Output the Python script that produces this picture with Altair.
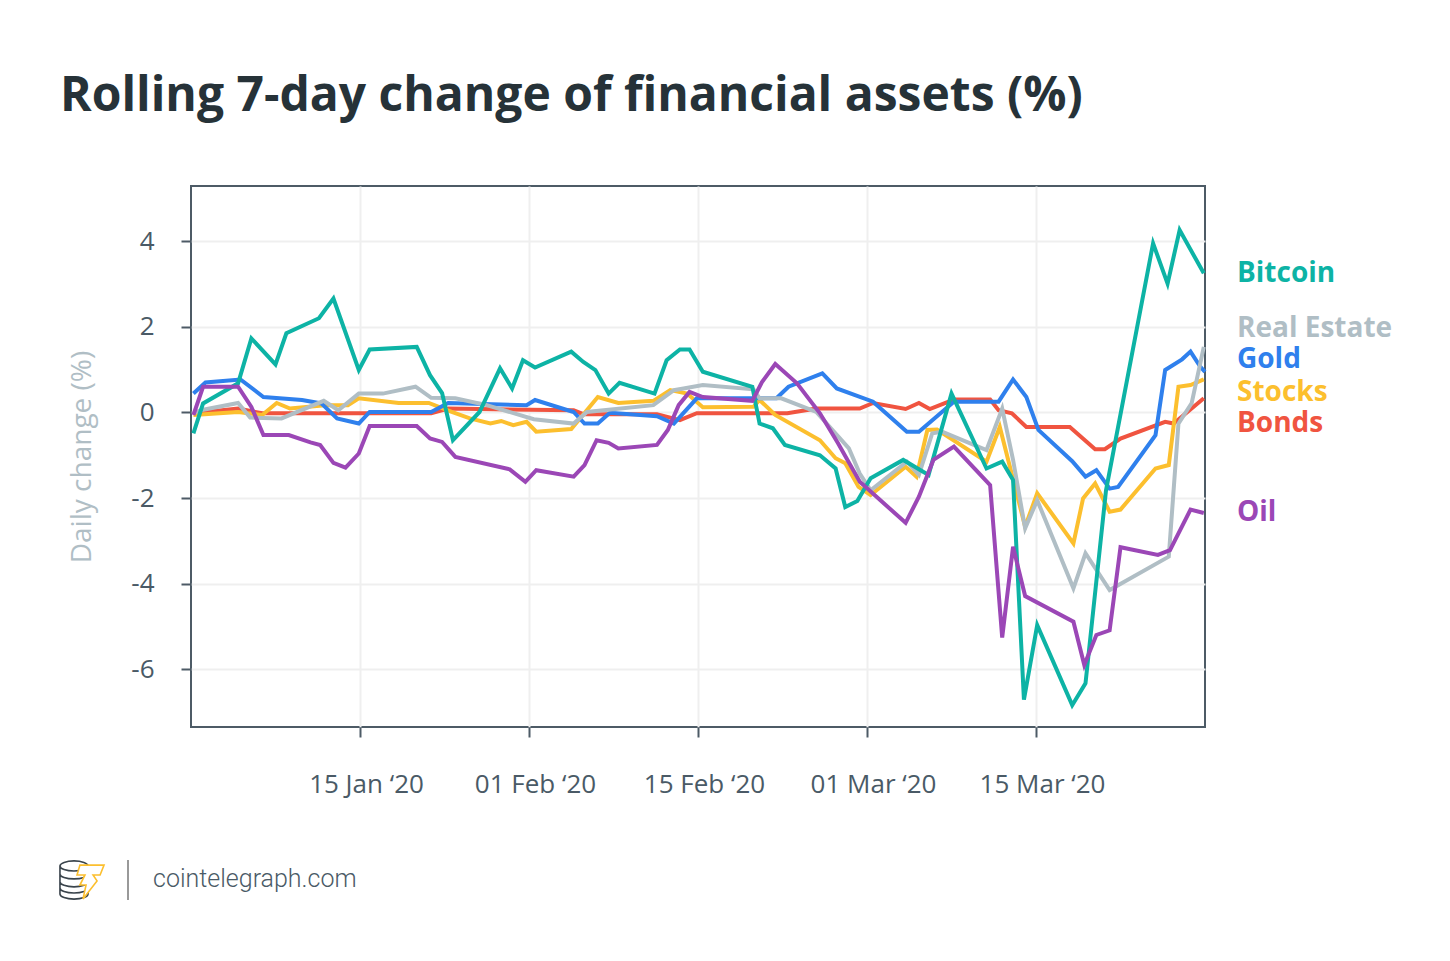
import altair as alt
import pandas as pd

# ---------------- data (x = day index along the axis, 14 per tick step) ----------------
btc_day = [0.2, 1.0, 3.9, 5.0, 7.0, 7.9, 10.6, 11.8, 13.9, 14.8, 18.7, 19.8, 20.8, 21.7, 23.9,
           25.6, 26.6, 27.5, 28.5, 31.5, 32.5, 33.5, 34.6, 35.5, 38.4, 39.4, 40.5, 41.3, 42.4,
           46.5, 47.1, 48.2, 49.2, 52.1, 53.4, 54.2, 55.2, 56.3, 59.0, 61.1, 63.0, 65.9, 67.2,
           68.1, 69.0, 70.1, 73.0, 74.1, 75.8, 79.7, 80.9, 81.9, 83.9]
btc_val = [-0.49, 0.21, 0.68, 1.73, 1.12, 1.85, 2.20, 2.66, 0.99, 1.47, 1.53, 0.87, 0.45, -0.65, 0.01,
           1.03, 0.56, 1.22, 1.05, 1.42, 1.18, 0.99, 0.44, 0.69, 0.44, 1.22, 1.47, 1.47, 0.95,
           0.60, -0.26, -0.37, -0.76, -1.00, -1.31, -2.21, -2.07, -1.54, -1.11, -1.46, 0.44, -1.31, -1.15,
           -1.58, -6.71, -4.97, -6.84, -6.33, -1.82, 3.95, 3.01, 4.26, 3.25]

gold_day = [0.2, 1.2, 4.1, 6.0, 9.2, 10.8, 12.1, 13.9, 14.8, 19.9, 21.3, 27.8, 28.5, 31.7, 32.6,
            33.7, 34.7, 38.6, 40.0, 41.9, 48.5, 49.5, 52.3, 53.5, 56.5, 59.3, 60.3, 63.2, 66.9,
            68.1, 69.2, 70.2, 73.0, 74.1, 75.0, 76.1, 76.8, 79.9, 80.7, 82.1, 82.8, 83.6, 84.0]
gold_val = [0.44, 0.70, 0.77, 0.36, 0.29, 0.21, -0.14, -0.26, 0.01, 0.01, 0.22, 0.17, 0.29, 0.01, -0.26,
            -0.26, -0.01, -0.09, -0.26, 0.33, 0.33, 0.60, 0.91, 0.56, 0.25, -0.45, -0.45, 0.25, 0.25,
            0.77, 0.36, -0.41, -1.14, -1.50, -1.35, -1.78, -1.74, -0.53, 0.99, 1.24, 1.42, 1.07, 0.95]

re_day = [0.2, 0.8, 3.9, 4.9, 7.5, 11.0, 12.2, 13.9, 15.9, 18.6, 19.9, 21.9, 24.5, 28.4, 31.7,
          32.8, 38.3, 40.0, 40.8, 42.4, 46.6, 47.1, 48.9, 51.8, 54.5, 55.4, 56.3, 59.3, 60.3, 61.4,
          62.2, 65.9, 67.2, 68.1, 69.1, 70.1, 73.1, 74.1, 76.1, 81.0, 81.8, 82.9, 83.9]
re_val = [-0.02, 0.05, 0.22, -0.12, -0.14, 0.27, 0.05, 0.44, 0.44, 0.60, 0.34, 0.33, 0.17, -0.16, -0.26,
          0.01, 0.17, 0.52, 0.56, 0.64, 0.54, 0.33, 0.33, 0.01, -0.84, -1.43, -1.82, -1.15, -1.46, -0.49,
          -0.45, -0.88, 0.09, -1.11, -2.71, -2.05, -4.11, -3.29, -4.15, -3.37, -0.26, 0.22, 1.53]

stocks_day = [0.2, 3.9, 5.9, 7.1, 8.2, 11.1, 13.0, 13.9, 17.2, 19.7, 21.6, 23.1, 24.8, 25.7, 26.7,
              27.8, 28.6, 31.5, 33.7, 35.4, 38.3, 39.7, 41.1, 42.4, 46.6, 47.1, 48.4, 52.1, 53.4, 54.2,
              55.3, 56.3, 59.2, 60.1, 61.0, 61.8, 65.9, 67.0, 69.1, 70.1, 73.1, 73.9, 74.9, 76.1, 77.0,
              79.9, 81.0, 81.8, 82.8, 83.9]
stocks_val = [-0.06, 0.01, -0.06, 0.22, 0.09, 0.17, 0.17, 0.33, 0.22, 0.22, 0.01, -0.14, -0.26, -0.20, -0.30,
              -0.22, -0.45, -0.39, 0.36, 0.22, 0.27, 0.52, 0.44, 0.12, 0.13, 0.29, -0.06, -0.65, -1.07, -1.19,
              -1.74, -1.93, -1.27, -1.50, -0.41, -0.40, -1.15, -0.34, -2.67, -1.89, -3.06, -2.01, -1.66, -2.32, -2.27,
              -1.31, -1.23, 0.60, 0.64, 0.77]

bonds_day = [0.2, 3.9, 5.9, 19.9, 21.3, 31.7, 32.5, 38.6, 40.5, 41.9, 49.4, 51.8, 55.4, 56.5, 59.2,
             60.3, 61.2, 63.2, 66.2, 66.9, 68.0, 69.2, 72.8, 74.9, 75.7, 77.0, 80.7, 81.4, 83.9]
bonds_val = [-0.02, 0.09, -0.02, -0.02, 0.09, 0.05, -0.04, -0.04, -0.18, -0.02, -0.02, 0.09, 0.09, 0.22, 0.08,
             0.22, 0.08, 0.30, 0.30, 0.05, -0.02, -0.34, -0.34, -0.86, -0.86, -0.61, -0.22, -0.26, 0.33]

oil_day = [0.2, 1.0, 3.9, 5.0, 6.0, 8.1, 9.9, 10.7, 11.8, 12.8, 13.9, 14.8, 18.7, 19.8, 20.8,
           21.9, 26.4, 27.7, 28.6, 31.7, 32.6, 33.6, 34.6, 35.4, 38.6, 39.5, 40.4, 41.3, 42.4, 46.5,
           47.3, 48.4, 50.2, 52.1, 53.6, 55.4, 59.2, 60.3, 61.5, 63.2, 66.2, 67.2, 68.1, 69.1, 73.1,
           74.0, 75.0, 76.1, 77.0, 80.1, 81.1, 82.8, 83.9]
oil_val = [-0.06, 0.60, 0.60, 0.13, -0.53, -0.53, -0.70, -0.76, -1.18, -1.29, -0.96, -0.32, -0.32, -0.61, -0.69,
           -1.04, -1.33, -1.62, -1.35, -1.50, -1.23, -0.65, -0.71, -0.84, -0.76, -0.41, 0.17, 0.48, 0.36, 0.27,
           0.71, 1.13, 0.68, -0.02, -0.72, -1.62, -2.58, -1.97, -1.11, -0.80, -1.70, -5.26, -3.14, -4.29, -4.89,
           -5.90, -5.20, -5.09, -3.15, -3.33, -3.22, -2.27, -2.35]

tick_days = [14, 28, 42, 56, 70]
tick_labels = ["15 Jan \u201820", "01 Feb \u201820", "15 Feb \u201820", "01 Mar \u201820", "15 Mar \u201820"]
y_ticks = [-6, -4, -2, 0, 2, 4]

names = ["Bitcoin", "Real Estate", "Gold", "Stocks", "Bonds", "Oil"]
colors = ["#0db3a5", "#b0bec5", "#2f80ed", "#fcbf2e", "#f05440", "#9b47b6"]
label_pos = [3.23, 1.95, 1.22, 0.45, -0.27, -2.35]

TITLE = "Rolling 7-day change of financial assets (%)"
FONT = "Open Sans"
AXIS_COL = "#4a5a66"
FRAME_COL = "#4d5b66"

# ---------------- encodings ----------------
label_expr = " : ".join(f"datum.value == {d} ? '{l}'" for d, l in zip(tick_days, tick_labels)) + " : ''"

x_enc = alt.X("day:Q",
              scale=alt.Scale(domain=[0, 84], nice=False, zero=False),
              axis=alt.Axis(values=tick_days, labelExpr=label_expr, title=None,
                            grid=True, gridColor="#efefef", gridWidth=2,
                            domain=False, ticks=True, tickSize=10, tickWidth=2, tickColor=FRAME_COL,
                            labelFont=FONT, labelFontSize=26, labelColor=AXIS_COL,
                            labelPadding=34, labelOffset=6))
y_enc = alt.Y("val:Q",
              scale=alt.Scale(domain=[-7.35, 5.29], nice=False, zero=False),
              axis=alt.Axis(values=y_ticks, labelExpr="'' + datum.value",
                            title="Daily change (%)", titleFont=FONT, titleFontSize=28,
                            titleFontWeight="normal", titleColor="#b0bec5", titlePadding=34,
                            grid=True, gridColor="#efefef", gridWidth=2,
                            domain=False, ticks=True, tickSize=10, tickWidth=2, tickColor=FRAME_COL,
                            labelFont=FONT, labelFontSize=26, labelColor=AXIS_COL,
                            labelPadding=27))

series = {
    "Bonds": (bonds_day, bonds_val),
    "Stocks": (stocks_day, stocks_val),
    "Gold": (gold_day, gold_val),
    "Real Estate": (re_day, re_val),
    "Bitcoin": (btc_day, btc_val),
    "Oil": (oil_day, oil_val),
}
color_of = dict(zip(names, colors))

layers = []
for name, (days, vals) in series.items():
    df = pd.DataFrame({"day": days, "val": vals, "series": name})
    layers.append(
        alt.Chart(df).mark_line(color=color_of[name], strokeWidth=4, strokeJoin="miter")
        .encode(x=x_enc, y=y_enc)
    )

# end labels
lab_df = pd.DataFrame({"label": names, "val": label_pos})
labels = alt.Chart(lab_df).mark_text(align="left", baseline="middle", font=FONT,
                                     fontSize=28, fontWeight="bold").encode(
    x=alt.value(1046),
    y=alt.Y("val:Q"),
    text="label:N",
    color=alt.Color("label:N", scale=alt.Scale(domain=names, range=colors), legend=None),
)

# title
title = alt.Chart(pd.DataFrame({"t": [TITLE]})).mark_text(
    align="left", baseline="alphabetic", font=FONT, fontSize=48, fontWeight="bold", color="#263238"
).encode(x=alt.value(-131), y=alt.value(-75), text="t:N")

# footer
footer = alt.Chart(pd.DataFrame({"t": ["cointelegraph.com"]})).mark_text(
    align="left", baseline="alphabetic", font="Roboto", fontSize=25, fontWeight=300, color=AXIS_COL
).encode(x=alt.value(-38), y=alt.value(701), text="t:N")

sep = alt.Chart(pd.DataFrame({"a": [0]})).mark_rule(color="#777777", strokeWidth=1.5).encode(
    x=alt.value(-63), y=alt.value(674), y2=alt.value(714))

coin_path = ("M -0.78 -0.78 A 0.78 0.28 0 1 0 0.78 -0.78 A 0.78 0.28 0 1 0 -0.78 -0.78 "
             "M -0.78 -0.78 L -0.78 0.78 A 0.78 0.28 0 0 0 0.78 0.78 L 0.78 -0.78 "
             "M -0.78 -0.34 A 0.78 0.28 0 0 0 0.78 -0.34 "
             "M -0.78 0.1 A 0.78 0.28 0 0 0 0.78 0.1 "
             "M -0.78 0.44 A 0.78 0.28 0 0 0 0.78 0.44")
bolt_path = ("M -0.56 -0.94 L 0.78 -0.94 L 0.56 -0.39 L 0.17 -0.39 L 0.39 -0.06 L -0.39 0.94 "
             "L -0.22 0.17 L -0.56 0.17 L -0.28 -0.39 L -0.72 -0.39 Z")
coin = alt.Chart(pd.DataFrame({"a": [0]})).mark_point(
    shape=coin_path, size=1296, filled=False, stroke="#3a444c", strokeWidth=1.6, opacity=1
).encode(x=alt.value(-117), y=alt.value(694))
bolt = alt.Chart(pd.DataFrame({"a": [0]})).mark_point(
    shape=bolt_path, size=1296, filled=True, fill="#ffffff", stroke="#fcbf2e", strokeWidth=1.6,
    opacity=1, fillOpacity=1
).encode(x=alt.value(-101), y=alt.value(696))

chart = alt.layer(*layers, labels, title, footer, sep, coin, bolt).properties(
    width=1014, height=541,
    autosize=alt.AutoSizeParams(type="none"),
    padding={"left": 183, "top": 178, "right": 237, "bottom": 226},
    background="white",
).configure_view(stroke=FRAME_COL, strokeWidth=2)

chart.save("out.html", embed_options={"renderer": "svg", "actions": False})
